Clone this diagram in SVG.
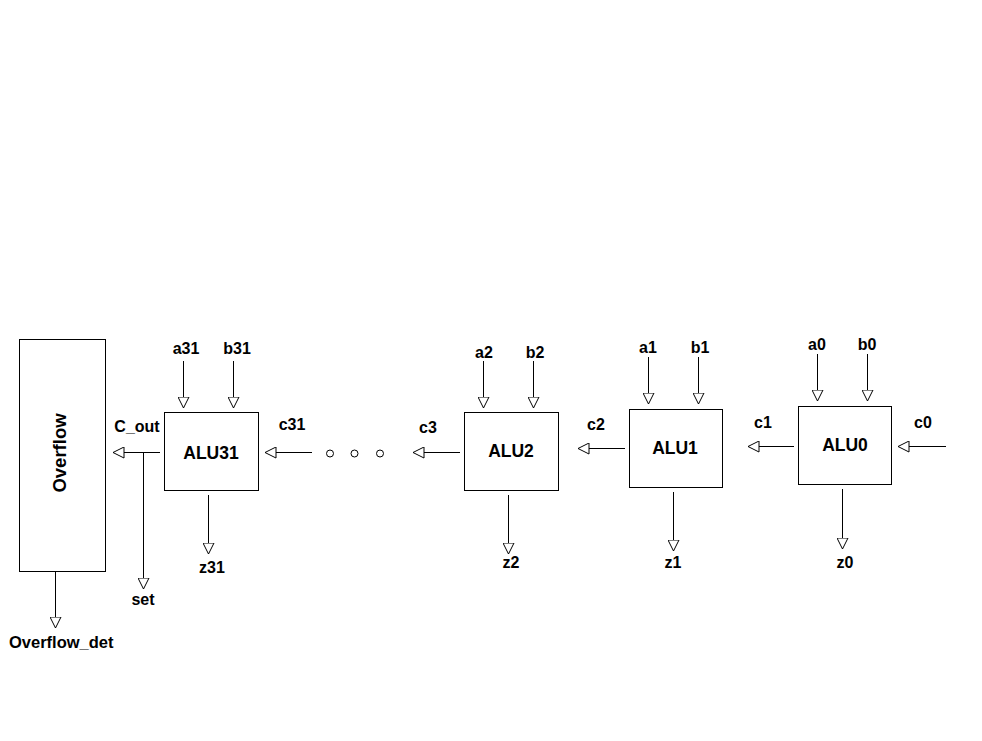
<svg xmlns="http://www.w3.org/2000/svg" width="982" height="741" viewBox="0 0 982 741">
<defs>
<marker id="tri" viewBox="0 0 12 12" refX="11.5" refY="6" markerWidth="12" markerHeight="12" markerUnits="userSpaceOnUse" orient="auto">
<path d="M0.5,0.5 L11.5,6 L0.5,11.5 Z" fill="#fff" stroke="#000" stroke-width="1"/>
</marker>
<style>
.box{fill:#fff;stroke:#000;stroke-width:1}
.ln{stroke:#000;stroke-width:1;fill:none;marker-end:url(#tri)}
.lb{font-family:"Liberation Sans",Arial,sans-serif;font-weight:bold;font-size:16px;fill:#000;text-anchor:middle}
.nm{font-family:"Liberation Sans",Arial,sans-serif;font-weight:bold;font-size:17.5px;fill:#000;text-anchor:middle}
.dot{fill:#fff;stroke:#000;stroke-width:1}
</style>
</defs>
<rect width="982" height="741" fill="#fff"/>
<g id="overflow">
<rect class="box" x="19.5" y="339.5" width="86" height="232"/>
<text class="nm" font-size="18.5" transform="translate(66,453) rotate(-90)" x="0" y="0" style="font-size:18.5px">Overflow</text>
</g>
<g id="alu31">
<rect class="box" x="164.5" y="412.5" width="94" height="78"/>
<text class="nm" x="211" y="459">ALU31</text>
</g>
<g id="alu2">
<rect class="box" x="464.5" y="412.5" width="94" height="78"/>
<text class="nm" x="511" y="457">ALU2</text>
</g>
<g id="alu1">
<rect class="box" x="629.5" y="409.5" width="93" height="78"/>
<text class="nm" x="675" y="454">ALU1</text>
</g>
<g id="alu0">
<rect class="box" x="798.5" y="406.5" width="93" height="78"/>
<text class="nm" x="845" y="451">ALU0</text>
</g>
<g id="connectors">
<line class="ln" x1="55.5" y1="571" x2="55.5" y2="628"/>
<line class="ln" x1="183.5" y1="361" x2="183.5" y2="408"/>
<line class="ln" x1="233.5" y1="361" x2="233.5" y2="408"/>
<line class="ln" x1="160" y1="452.5" x2="113" y2="452.5"/>
<line class="ln" x1="143.5" y1="452.5" x2="143.5" y2="589"/>
<line class="ln" x1="208.5" y1="495" x2="208.5" y2="554"/>
<line class="ln" x1="312" y1="452.5" x2="265" y2="452.5"/>
<line class="ln" x1="460" y1="452.5" x2="413" y2="452.5"/>
<line class="ln" x1="483.5" y1="361" x2="483.5" y2="408"/>
<line class="ln" x1="533.5" y1="361" x2="533.5" y2="408"/>
<line class="ln" x1="508.5" y1="495" x2="508.5" y2="554"/>
<line class="ln" x1="625" y1="448.5" x2="578" y2="448.5"/>
<line class="ln" x1="648.5" y1="357" x2="648.5" y2="404"/>
<line class="ln" x1="698.5" y1="357" x2="698.5" y2="404"/>
<line class="ln" x1="673.5" y1="492" x2="673.5" y2="551"/>
<line class="ln" x1="794" y1="446.5" x2="748" y2="446.5"/>
<line class="ln" x1="817.5" y1="354" x2="817.5" y2="401"/>
<line class="ln" x1="867.5" y1="354" x2="867.5" y2="401"/>
<line class="ln" x1="842.5" y1="489" x2="842.5" y2="549"/>
<line class="ln" x1="946" y1="446.5" x2="898" y2="446.5"/>
<circle class="dot" cx="330" cy="453.5" r="3.5"/>
<circle class="dot" cx="354.5" cy="453.5" r="3.5"/>
<circle class="dot" cx="380" cy="453.5" r="3.5"/>
</g>
<g id="labels">
<text class="lb" x="186" y="354">a31</text>
<text class="lb" x="237" y="354">b31</text>
<text class="lb" x="137" y="432">C_out</text>
<text class="lb" x="292" y="430">c31</text>
<text class="lb" x="212" y="573">z31</text>
<text class="lb" x="143" y="605">set</text>
<text class="lb" x="9" y="648" style="text-anchor:start;font-size:16.5px">Overflow_det</text>
<text class="lb" x="428" y="433">c3</text>
<text class="lb" x="484" y="358">a2</text>
<text class="lb" x="535" y="358">b2</text>
<text class="lb" x="511" y="568">z2</text>
<text class="lb" x="596" y="430">c2</text>
<text class="lb" x="648" y="353">a1</text>
<text class="lb" x="700" y="353">b1</text>
<text class="lb" x="673" y="568">z1</text>
<text class="lb" x="763" y="428">c1</text>
<text class="lb" x="817" y="350">a0</text>
<text class="lb" x="867" y="350">b0</text>
<text class="lb" x="845" y="568">z0</text>
<text class="lb" x="923" y="428">c0</text>
</g>
</svg>
